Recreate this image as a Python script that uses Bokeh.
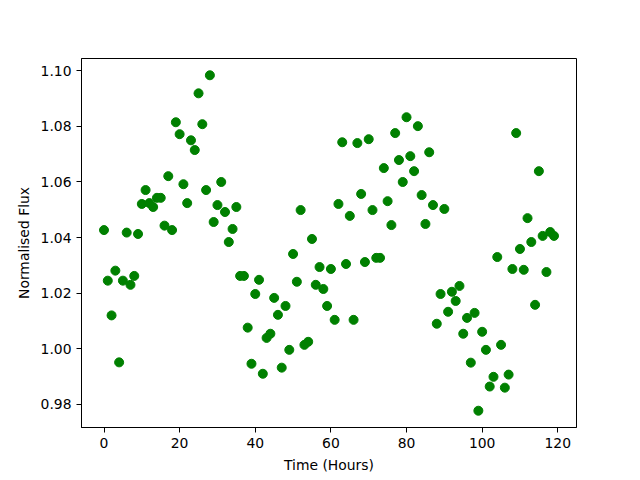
from bokeh.plotting import figure
from bokeh.models import Range1d, FixedTicker, NumeralTickFormatter
from bokeh.embed import file_html
from bokeh.resources import INLINE

hours = list(range(120))
flux = [
    1.0427, 1.0245, 1.0120, 1.0281, 0.9951, 1.0245, 1.0418, 1.0230, 1.0262, 1.0413,
    1.0521, 1.0571, 1.0524, 1.0510, 1.0543, 1.0543, 1.0443, 1.0621, 1.0427, 1.0815,
    1.0772, 1.0592, 1.0524, 1.0750, 1.0715, 1.0919, 1.0808, 1.0571, 1.0984, 1.0456,
    1.0517, 1.0600, 1.0492, 1.0384, 1.0431, 1.0510, 1.0262, 1.0262, 1.0076, 0.9946,
    1.0197, 1.0248, 0.9910, 1.0039, 1.0054, 1.0183, 1.0122, 0.9932, 1.0154, 0.9996,
    1.0341, 1.0241, 1.0499, 1.0014, 1.0025, 1.0395, 1.0230, 1.0294, 1.0215, 1.0154,
    1.0287, 1.0104, 1.0521, 1.0743, 1.0305, 1.0478, 1.0104, 1.0740, 1.0557, 1.0312,
    1.0754, 1.0499, 1.0327, 1.0327, 1.0650, 1.0531, 1.0445, 1.0776, 1.0679, 1.0600,
    1.0833, 1.0693, 1.0639, 1.0801, 1.0553, 1.0449, 1.0707, 1.0517, 1.0090, 1.0197,
    1.0503, 1.0133, 1.0205, 1.0172, 1.0226, 1.0054, 1.0111, 0.9950, 1.0129, 0.9777,
    1.0061, 0.9996, 0.9864, 0.9899, 1.0330, 1.0014, 0.9860, 0.9907, 1.0287, 1.0776,
    1.0359, 1.0284, 1.0470, 1.0384, 1.0158, 1.0639, 1.0406, 1.0276, 1.0420, 1.0406,
]
x_ticks = [0, 20, 40, 60, 80, 100, 120]
y_ticks = [0.98, 1.00, 1.02, 1.04, 1.06, 1.08, 1.10]

xmin, xmax = min(hours), max(hours)
ymin, ymax = min(flux), max(flux)
xpad = 0.05 * (xmax - xmin)
ypad = 0.05 * (ymax - ymin)

p = figure(width=640, height=480, output_backend="svg", toolbar_location=None,
           x_range=Range1d(xmin - xpad, xmax + xpad),
           y_range=Range1d(ymin - ypad, ymax + ypad),
           min_border_left=81, min_border_right=64,
           min_border_top=58, min_border_bottom=53)

p.scatter(hours, flux, size=9, color="green", line_color="green")

p.xgrid.visible = False
p.ygrid.visible = False
p.outline_line_color = "black"
p.outline_line_width = 1
p.background_fill_color = "white"
p.border_fill_color = "white"

p.xaxis.ticker = FixedTicker(ticks=x_ticks)
p.yaxis.ticker = FixedTicker(ticks=y_ticks)
p.yaxis.formatter = NumeralTickFormatter(format="0.00")
p.xaxis.axis_label = "Time (Hours)"
p.yaxis.axis_label = "Normalised Flux"

for ax in (p.xaxis, p.yaxis):
    ax.major_tick_in = 0
    ax.major_tick_out = 5
    ax.minor_tick_in = 0
    ax.minor_tick_out = 0
    ax.axis_line_color = "black"
    ax.major_tick_line_color = "black"
    ax.major_label_text_font = "DejaVu Sans"
    ax.major_label_text_font_size = "13.9px"
    ax.major_label_text_color = "black"
    ax.axis_label_text_font = "DejaVu Sans"
    ax.axis_label_text_font_size = "13.9px"
    ax.axis_label_text_font_style = "normal"
    ax.axis_label_text_color = "black"
    ax.major_label_standoff = 5
    ax.axis_label_standoff = 6

open("out.html", "w").write(file_html(p, INLINE))
